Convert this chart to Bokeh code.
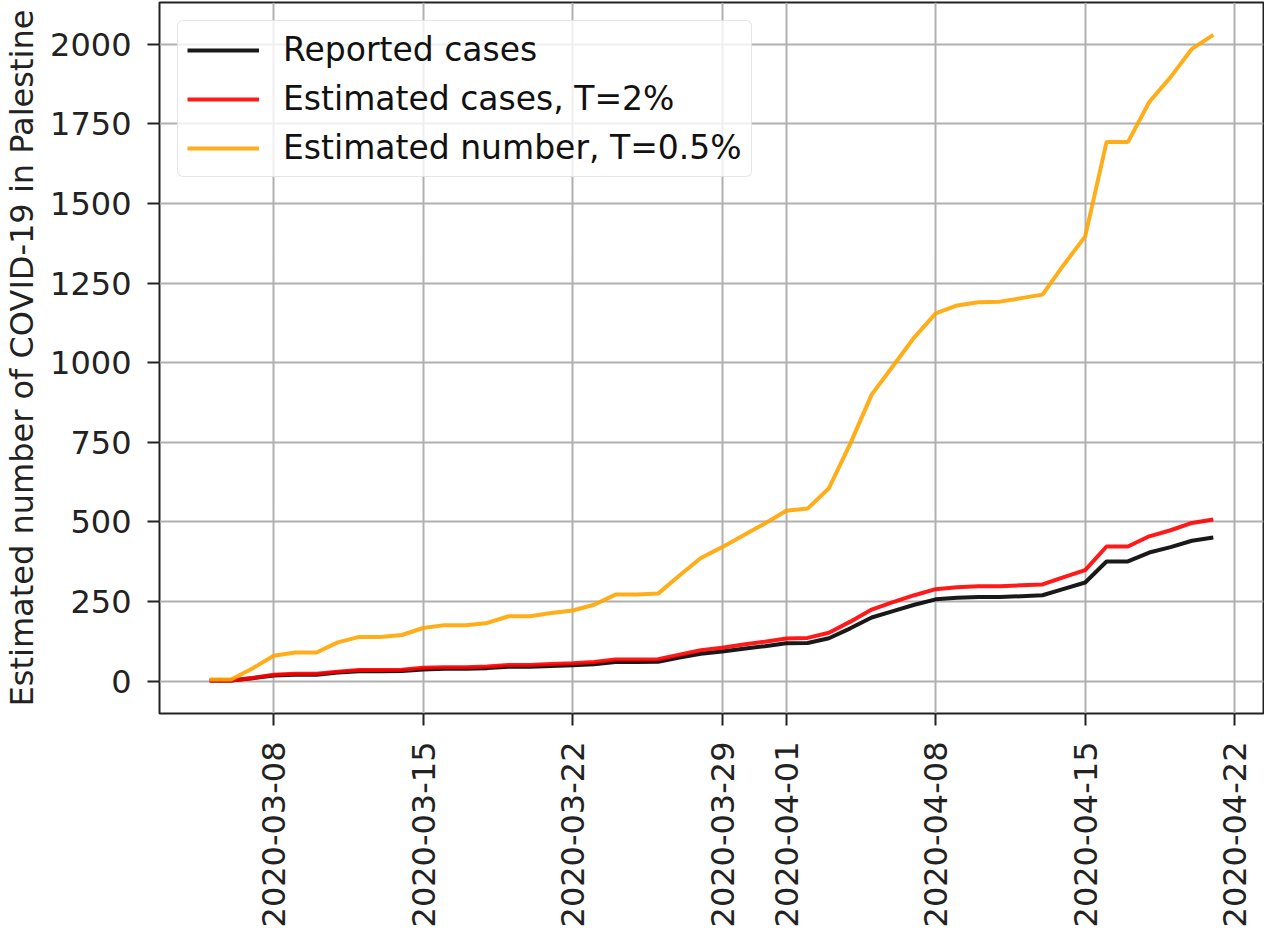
import math
import pandas as pd
from bokeh.plotting import figure
from bokeh.models import FixedTicker, DatetimeTickFormatter, Range1d
from bokeh.embed import file_html
from bokeh.resources import INLINE

# ---------------- data ----------------
start_date = "2020-03-05"
end_date = "2020-04-21"

reported_cases = [2, 2, 9, 18, 20, 20, 27, 31, 31, 32,
                  37, 39, 39, 41, 45, 45, 48, 50, 53, 60,
                  60, 61, 74, 86, 93, 102, 110, 119, 120, 135,
                  166, 200, 220, 240, 257, 262, 264, 264, 267, 270,
                  290, 310, 376, 376, 404, 421, 441, 451]

estimated_t2 = [2, 2, 10, 20, 23, 23, 30, 35, 35, 36,
                42, 44, 44, 46, 51, 51, 54, 56, 60, 68,
                68, 69, 83, 97, 105, 115, 124, 134, 136, 152,
                187, 225, 248, 270, 289, 295, 298, 298, 301, 304,
                327, 349, 423, 423, 455, 474, 497, 508]

estimated_t05 = [5, 5, 40, 80, 90, 90, 122, 139, 139, 145,
                 167, 176, 176, 183, 204, 204, 214, 222, 240, 272,
                 272, 275, 332, 387, 421, 458, 495, 535, 542, 606,
                 746, 900, 990, 1080, 1155, 1180, 1190, 1192, 1203, 1214,
                 1308, 1397, 1693, 1693, 1819, 1897, 1986, 2030]

series_labels = ["Reported cases", "Estimated cases, T=2%", "Estimated number, T=0.5%"]
series_colors = ["black", "red", "orange"]

x_tick_labels = ["2020-03-08", "2020-03-15", "2020-03-22", "2020-03-29",
                 "2020-04-01", "2020-04-08", "2020-04-15", "2020-04-22"]
y_ticks = [0, 250, 500, 750, 1000, 1250, 1500, 1750, 2000]

y_axis_label = "Estimated number of COVID-19 in Palestine"

# ---------------- figure ----------------
dates = pd.date_range(start_date, end_date, freq="D")

FONT = "DejaVu Sans"

# 5% margins like the source
t0 = dates[0].value / 1e6
t1 = dates[-1].value / 1e6
dx = (t1 - t0) * 0.05
all_vals = reported_cases + estimated_t2 + estimated_t05
ymax = max(all_vals)
dy = ymax * 0.05

p = figure(width=1264, height=930, output_backend="svg", toolbar_location=None,
           x_axis_type="datetime",
           x_range=Range1d(t0 - dx, t1 + dx),
           y_range=Range1d(0 - dy, ymax + dy),
           min_border_left=155, min_border_right=1, min_border_top=2,
           min_border_bottom=215)

series = [reported_cases, estimated_t2, estimated_t05]
for vals, lab, col in zip(series, series_labels, series_colors):
    p.line(dates, vals, line_color=col, line_width=4, line_alpha=0.9, legend_label=lab)

# axes
p.xaxis.ticker = FixedTicker(ticks=[pd.Timestamp(s).value / 1e6 for s in x_tick_labels])
p.xaxis.formatter = DatetimeTickFormatter(
    milliseconds="%Y-%m-%d", seconds="%Y-%m-%d", minsec="%Y-%m-%d", minutes="%Y-%m-%d",
    hourmin="%Y-%m-%d", hours="%Y-%m-%d", days="%Y-%m-%d", months="%Y-%m-%d", years="%Y-%m-%d")
p.xaxis.major_label_orientation = math.pi / 2
p.yaxis.ticker = FixedTicker(ticks=y_ticks)
p.yaxis.axis_label = y_axis_label

for ax in (p.xaxis, p.yaxis):
    ax.major_label_text_font = FONT
    ax.major_label_text_font_size = "32px"
    ax.major_label_text_color = "#222222"
    ax.axis_line_color = None
    ax.major_tick_line_color = "#222222"
    ax.major_tick_line_width = 2
    ax.major_tick_out = 12
    ax.major_tick_in = 0
    ax.minor_tick_line_color = None
    ax.axis_label_text_font = FONT
    ax.axis_label_text_font_size = "32px"
    ax.axis_label_text_font_style = "normal"
    ax.axis_label_text_color = "#222222"

p.xaxis.major_label_standoff = 16
p.yaxis.major_label_standoff = 16
p.yaxis.axis_label_standoff = 6

# grid
p.grid.grid_line_color = "#b0b0b0"
p.grid.grid_line_width = 2

# frame
p.outline_line_color = "#222222"
p.outline_line_width = 2
p.background_fill_color = "white"
p.border_fill_color = "white"

# legend
lg = p.legend[0]
lg.location = "top_left"
lg.margin = 18
lg.padding = 9
lg.spacing = 10
lg.glyph_width = 72
lg.glyph_height = 36
lg.label_height = 36
lg.label_standoff = 24
lg.label_text_font = FONT
lg.label_text_font_size = "33px"
lg.label_text_color = "#111111"
lg.border_line_color = "#cccccc"
lg.border_line_width = 1.5
lg.background_fill_color = "white"
lg.background_fill_alpha = 0.8
if "border_radius" in lg.properties():
    lg.border_radius = 6

open("out.html", "w").write(file_html(p, INLINE))
